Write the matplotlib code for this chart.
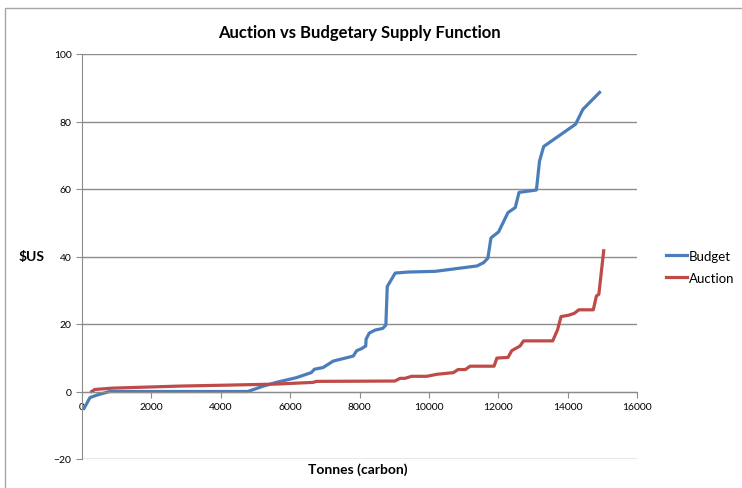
import matplotlib.pyplot as plt
from matplotlib.patches import Rectangle

# values
budget_x = [60, 230, 450, 800, 4780, 5200, 5600, 6180, 6610, 6700, 6950, 7240,
            7820, 7920, 8060, 8180, 8190, 8280, 8450, 8670, 8760, 8800, 9030,
            9410, 10180, 11390, 11580, 11700, 11790, 12010, 12280, 12490, 12600,
            13100, 13190, 13310, 14230, 14440, 14920]
budget_y = [-5.0, -1.8, -1.0, 0, 0, 1.5, 2.7, 4.1, 5.6, 6.6, 7.1, 9.0,
            10.5, 12.1, 12.7, 13.5, 15.5, 17.3, 18.2, 18.7, 19.7, 31.1, 35.1,
            35.4, 35.6, 37.2, 38.2, 39.5, 45.5, 47.3, 53.0, 54.5, 59.0,
            59.7, 68.3, 72.6, 79.2, 83.6, 88.6]

auction_x = [280, 370, 880, 2800, 4250, 5600, 6660, 6760, 9020, 9170, 9310,
             9500, 9940, 10230, 10710, 10840, 11050, 11190, 11880, 11960, 12280,
             12390, 12630, 12730, 13570, 13710, 13810, 14030, 14200, 14320, 14740,
             14830, 14900, 15040]
auction_y = [0, 0.6, 1.0, 1.6, 1.9, 2.2, 2.7, 3.0, 3.1, 3.9, 3.9,
             4.5, 4.5, 5.1, 5.6, 6.5, 6.5, 7.5, 7.5, 9.9, 10.1,
             12.1, 13.5, 15.0, 15.0, 18.3, 22.2, 22.6, 23.2, 24.2, 24.2,
             28.3, 28.8, 41.7]

x_ticks = [0, 2000, 4000, 6000, 8000, 10000, 12000, 14000, 16000]
y_ticks = [-20, 0, 20, 40, 60, 80, 100]

plt.rcParams['font.family'] = ['Lato', 'DejaVu Sans']

fig = plt.figure(figsize=(7.42, 4.89), dpi=100)
ax = fig.add_axes([82 / 742, 1 - 460 / 489, 555 / 742, 405 / 489])

# frame around the chart area
fig.patches.append(Rectangle((5 / 742, -0.1), 1.2, 1.1 - 9 / 489,
                             transform=fig.transFigure, fill=False,
                             edgecolor='#a6a6a6', linewidth=1))

ax.plot(budget_x, budget_y, color='#4a7ebb', lw=2.3, label='Budget')
ax.plot(auction_x, auction_y, color='#be4b48', lw=2.3, label='Auction')

ax.set_xlim(0, 16000)
ax.set_ylim(-20, 100)
ax.set_xticks(x_ticks)
ax.set_yticks(y_ticks)

ax.grid(axis='y', color='#8c8c8c', linewidth=1)
ax.set_axisbelow(True)
ax.spines['top'].set_visible(False)
ax.spines['right'].set_visible(False)
ax.spines['bottom'].set_position(('data', 0))
ax.spines['bottom'].set_color('#8c8c8c')
ax.spines['left'].set_color('#8c8c8c')
ax.tick_params(axis='both', colors='#8c8c8c', labelcolor='black',
               labelsize=7.5, length=4)

ax.set_title('Auction vs Budgetary Supply Function', fontsize=12,
             fontweight='bold', pad=12)
fig.text(358 / 742, 1 - 470 / 489, 'Tonnes (carbon)', ha='center',
         va='center', fontsize=10, fontweight='bold')
fig.text(32 / 742, 1 - 257 / 489, '$US', ha='center', va='center',
         fontsize=10, fontweight='bold')

fig.legend(loc='center left', bbox_to_anchor=(666 / 742, 1 - 268 / 489),
           frameon=False, fontsize=9.5, handlelength=1.6, handletextpad=0.15,
           labelspacing=0.75, borderpad=0, borderaxespad=0)

fig.savefig('out.png', dpi=100)
plt.close(fig)
